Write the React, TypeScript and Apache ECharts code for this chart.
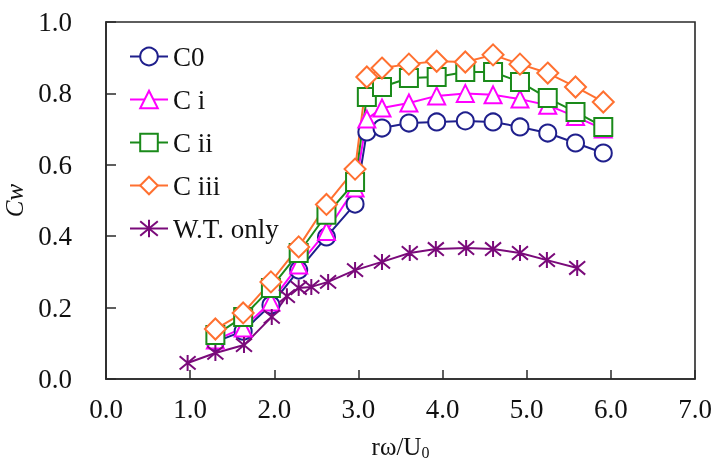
import React, { useEffect, useRef } from "react";
import * as echarts from "echarts";

const cX = [1.3, 1.63, 1.96, 2.29, 2.62, 2.96, 3.1, 3.28, 3.6, 3.93, 4.27, 4.6, 4.92, 5.25, 5.58, 5.91];
const c0 = [0.104, 0.134, 0.207, 0.305, 0.398, 0.49, 0.692, 0.703, 0.717, 0.72, 0.723, 0.72, 0.706, 0.689, 0.661, 0.633];
const cI = [0.109, 0.143, 0.216, 0.319, 0.413, 0.535, 0.728, 0.759, 0.773, 0.793, 0.8, 0.796, 0.784, 0.767, 0.735, 0.7];
const cII = [0.123, 0.174, 0.255, 0.353, 0.46, 0.552, 0.79, 0.818, 0.843, 0.846, 0.86, 0.86, 0.832, 0.787, 0.748, 0.706];
const cIII = [0.14, 0.185, 0.272, 0.37, 0.489, 0.588, 0.846, 0.871, 0.882, 0.89, 0.888, 0.908, 0.882, 0.857, 0.818, 0.776];
const wtX = [0.97, 1.3, 1.64, 1.97, 2.15, 2.29, 2.44, 2.64, 2.96, 3.28, 3.61, 3.92, 4.28, 4.6, 4.92, 5.24, 5.6];
const wtY = [0.045, 0.073, 0.095, 0.174, 0.232, 0.255, 0.258, 0.272, 0.305, 0.328, 0.353, 0.364, 0.367, 0.364, 0.353, 0.333, 0.311];
const seriesNames = ["C0", "C i", "C ii", "C iii", "W.T. only"];

const SERIF = "'Liberation Serif', 'Times New Roman', serif";
const STAR = "path://M-1,-1L1,1M-1,1L1,-1M0,-1.2L0,1.2";

function zip(xs: number[], ys: number[]) {
  return xs.map((x, i) => [x, ys[i]]);
}

export default function App() {
  const ref = useRef<HTMLDivElement>(null);
  useEffect(() => {
    if (!ref.current) return;
    const chart = echarts.init(ref.current, null, { renderer: "svg" });
    const axisColor = "#2a2a2a";
    const mk = (name: string, color: string, symbol: string, data: number[][], size: number) => ({
      name,
      type: "line",
      data,
      color,
      symbol,
      symbolSize: size,
      showAllSymbol: true,
      lineStyle: { color, width: 2 },
      itemStyle: symbol.startsWith("path")
        ? { color: "none", borderColor: color, borderWidth: 2 }
        : { color, borderWidth: 1.6 },
      z: 2,
    });
    chart.setOption({
      animation: false,
      grid: {
        left: 106,
        right: 16,
        top: 22,
        bottom: 85,
        show: true,
        borderColor: axisColor,
        borderWidth: 1.6,
        containLabel: false,
        outerBoundsMode: "none",
      },
      legend: {
        orient: "vertical",
        left: 124,
        top: 36,
        itemWidth: 38,
        itemHeight: 22,
        itemGap: 12,
        data: seriesNames,
        textStyle: { fontFamily: SERIF, fontSize: 27, color: "#111", lineHeight: 31 },
      },
      xAxis: {
        type: "value",
        min: 0,
        max: 7,
        interval: 1,
        splitLine: { show: false },
        axisLine: { show: true, onZero: false, lineStyle: { color: axisColor, width: 1.6 } },
        axisTick: { show: true, inside: true, length: 9, lineStyle: { color: axisColor, width: 1.5 } },
        axisLabel: {
          margin: 16,
          fontFamily: SERIF,
          fontSize: 27,
          color: "#111",
          formatter: (v: number) => v.toFixed(1),
        },
        name: "{a|rω/U}{s|0}",
        nameLocation: "middle",
        nameGap: 53,
        nameTextStyle: {
          rich: {
            a: { fontFamily: SERIF, fontSize: 25, color: "#111" },
            s: { fontFamily: SERIF, fontSize: 16, color: "#111", verticalAlign: "bottom", padding: [12, 0, 0, 0] },
          },
        },
      },
      yAxis: {
        type: "value",
        min: 0,
        max: 1,
        interval: 0.2,
        splitLine: { show: false },
        axisLine: { show: true, onZero: false, lineStyle: { color: axisColor, width: 1.6 } },
        axisTick: { show: true, inside: true, length: 10, lineStyle: { color: axisColor, width: 1.5 } },
        axisLabel: {
          margin: 34,
          fontFamily: SERIF,
          fontSize: 27,
          color: "#111",
          formatter: (v: number) => v.toFixed(1),
        },
        name: "Cw",
        nameLocation: "middle",
        nameGap: 62,
        nameTextStyle: { fontFamily: SERIF, fontSize: 25, fontStyle: "italic", color: "#111" },
      },
      series: [
        mk("C0", "#1f1f8c", "emptyCircle", zip(cX, c0), 17),
        mk("C i", "#ff00ff", "emptyTriangle", zip(cX, cI), 17),
        mk("C ii", "#1a8a1a", "emptyRect", zip(cX, cII), 18),
        mk("C iii", "#ff7030", "emptyDiamond", zip(cX, cIII), 21),
        mk("W.T. only", "#7a0a7a", STAR, zip(wtX, wtY), 16),
      ],
    });
    return () => chart.dispose();
  }, []);
  return <div ref={ref} style={{ position: "fixed", left: 0, top: 0, width: 711, height: 464 }} />;
}
